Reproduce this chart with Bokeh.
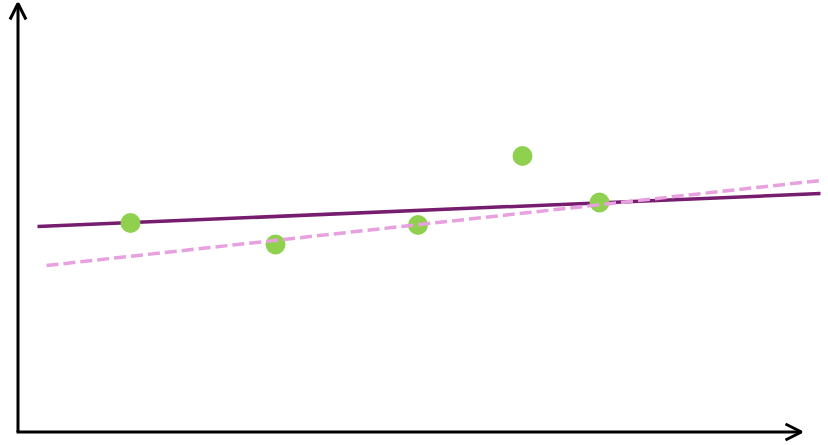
from bokeh.plotting import figure
from bokeh.models import Range1d, Arrow, OpenHead
from bokeh.embed import file_html
from bokeh.resources import INLINE

# Data (units: distance from the axes origin)
pt_x = [112, 257, 399.5, 504, 581]
pt_y = [209.5, 188, 207.5, 276.5, 230]

fit_solid_x = [19, 802]
fit_solid_y = [206, 239]

fit_dashed_x = [28, 802]
fit_dashed_y = [167, 252]

axis_x_end = 783
axis_y_end = 429

p = figure(width=828, height=445, output_backend="svg", toolbar_location=None,
           x_range=Range1d(-18, 810), y_range=Range1d(-13, 432),
           min_border=0)
p.axis.visible = False
p.grid.visible = False
p.outline_line_color = None
p.background_fill_color = "white"
p.border_fill_color = "white"

p.line(fit_solid_x, fit_solid_y, line_color="#771d70", line_width=3.5)
p.scatter(pt_x, pt_y, size=20, fill_color="#8fd14f", line_color=None)
p.line(fit_dashed_x, fit_dashed_y, line_color="#e6a1de", line_width=3.5,
       line_dash="12 5")

p.add_layout(Arrow(end=OpenHead(size=16, line_width=3, line_color="black"),
                   x_start=-0.5, y_start=0.5, x_end=-0.5, y_end=axis_y_end,
                   line_width=3, line_color="black"))
p.add_layout(Arrow(end=OpenHead(size=16, line_width=3, line_color="black"),
                   x_start=-2, y_start=0.5, x_end=axis_x_end, y_end=0.5,
                   line_width=3, line_color="black"))

open("out.html", "w").write(file_html(p, INLINE))
